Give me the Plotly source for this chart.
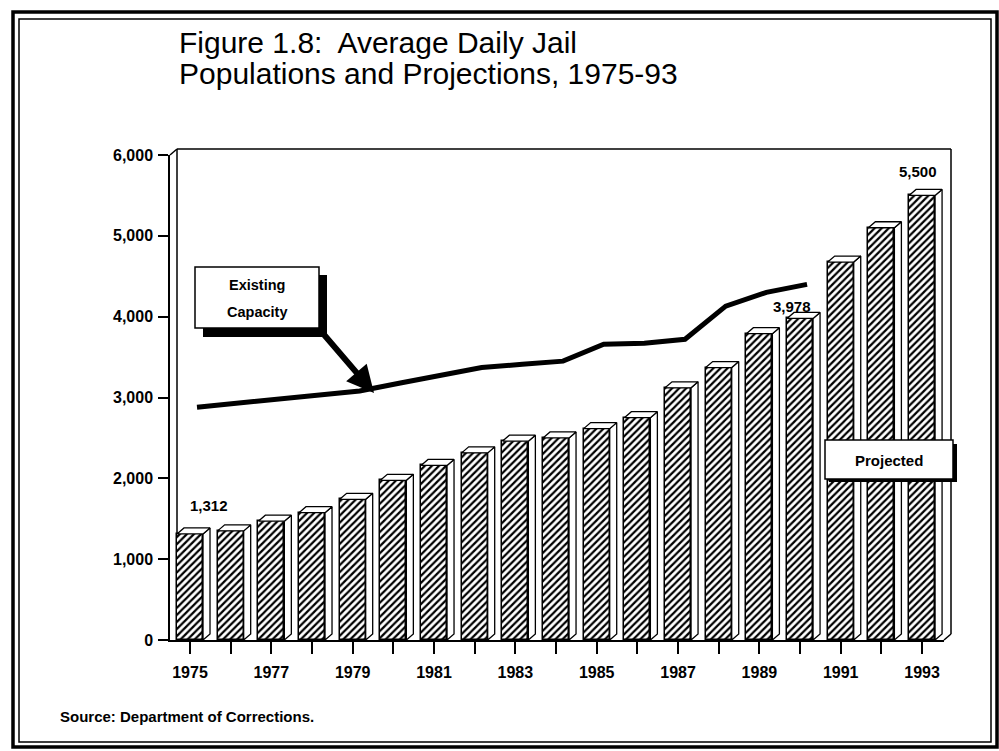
import plotly.graph_objects as go

# ---------------- data ----------------
years = list(range(1975, 1994))
population = [1312, 1350, 1470, 1575, 1740, 1975, 2160, 2315, 2460, 2500,
              2615, 2750, 3120, 3370, 3790, 3978, 4675, 5100, 5500]
cap_years = list(range(1975, 1991))
capacity = [2880, 2930, 2980, 3020, 3080, 3180, 3270, 3370, 3410, 3450,
            3660, 3670, 3720, 4130, 4300, 4400]
ytick_vals = [0, 1000, 2000, 3000, 4000, 5000, 6000]
ytick_text = ["0", "1,000", "2,000", "3,000", "4,000", "5,000", "6,000"]
xtick_text = [str(y) if (y - 1975) % 2 == 0 else "" for y in years]
labelled_years = [1975, 1990, 1993]
title_lines = ["Figure 1.8:  Average Daily Jail", "Populations and Projections, 1975-93"]
source_text = "Source: Department of Corrections."

# ---------------- geometry / style ----------------
W, H = 999, 751
L, R, T, B = 170, 55, 155, 111
PW, PH = W - L - R, H - T - B
PX_PER_YEAR = 40.67
XMIN = 1975 - 20 / PX_PER_YEAR
XMAX = XMIN + PW / PX_PER_YEAR
YMAX = 6000
DX = 7 / PX_PER_YEAR          # 3-D depth (years)
DY = 6 / PH * YMAX            # 3-D depth (value units)
BW = 0.64                     # bar width
FONT = "Liberation Sans, Arial, Helvetica, sans-serif"


def pxx(X):
    return (X - L) / PW


def pxy(Y):
    return (H - B - Y) / PH


def dxp(x):
    return (x - XMIN) / (XMAX - XMIN)


def dyp(y):
    return y / YMAX


fig = go.Figure()

# capacity line (drawn on back plane)
fig.add_trace(go.Scatter(
    x=[y + DX for y in cap_years], y=capacity, mode="lines",
    line=dict(color="black", width=5), hoverinfo="skip", showlegend=False))

# front faces of bars
fig.add_trace(go.Bar(
    x=years, y=population, width=BW,
    marker=dict(color="white", line=dict(color="black", width=1.5),
                pattern=dict(shape="/", fgcolor="black", bgcolor="white",
                             size=5, solidity=0.45, fillmode="replace")),
    showlegend=False, hoverinfo="skip"))

# 3-D top and side faces
tx, ty, sx, sy = [], [], [], []
for yr, v in zip(years, population):
    x0, x1 = yr - BW / 2, yr + BW / 2
    tx += [x0, x1, x1 + DX, x0 + DX, x0, None]
    ty += [v, v, v + DY, v + DY, v, None]
    sx += [x1, x1 + DX, x1 + DX, x1, x1, None]
    sy += [0, DY, v + DY, v, 0, None]
for xs, ys in ((sx, sy), (tx, ty)):
    fig.add_trace(go.Scatter(
        x=xs, y=ys, mode="lines", fill="toself", fillcolor="white",
        line=dict(color="black", width=1.3), hoverinfo="skip",
        showlegend=False, cliponaxis=False))

shapes = []
line_k = dict(color="black", width=1.5)
# back wall / 3-D frame of the plot
shapes += [
    dict(type="line", xref="paper", yref="paper", x0=dxp(XMIN + DX), y0=dyp(DY),
         x1=dxp(XMIN + DX), y1=dyp(YMAX + DY), line=line_k, layer="below"),
    dict(type="line", xref="paper", yref="paper", x0=dxp(XMIN + DX), y0=dyp(YMAX + DY),
         x1=dxp(XMAX + DX), y1=dyp(YMAX + DY), line=line_k),
    dict(type="line", xref="paper", yref="paper", x0=dxp(XMAX + DX), y0=dyp(YMAX + DY),
         x1=dxp(XMAX + DX), y1=dyp(DY), line=line_k),
    dict(type="line", xref="paper", yref="paper", x0=dxp(XMIN), y0=dyp(YMAX),
         x1=dxp(XMIN + DX), y1=dyp(YMAX + DY), line=line_k),
    dict(type="line", xref="paper", yref="paper", x0=dxp(XMAX), y0=dyp(0),
         x1=dxp(XMAX + DX), y1=dyp(DY), line=line_k),
]
# outer page frame
shapes += [
    dict(type="rect", xref="paper", yref="paper", x0=pxx(13), y0=pxy(12),
         x1=pxx(997), y1=pxy(747), line=dict(color="black", width=3.5)),
    dict(type="rect", xref="paper", yref="paper", x0=pxx(19), y0=pxy(19),
         x1=pxx(991), y1=pxy(742), line=dict(color="black", width=1.5)),
]
# "Existing Capacity" call-out box with shadow
shapes += [
    dict(type="rect", xref="paper", yref="paper", x0=pxx(203), y0=pxy(275),
         x1=pxx(327), y1=pxy(337), fillcolor="black", line=dict(width=0)),
    dict(type="rect", xref="paper", yref="paper", x0=pxx(195), y0=pxy(267),
         x1=pxx(319), y1=pxy(328), fillcolor="white", line=line_k),
]
# "Projected" box with shadow
shapes += [
    dict(type="rect", xref="paper", yref="paper", x0=pxx(829), y0=pxy(444),
         x1=pxx(957), y1=pxy(482), fillcolor="black", line=dict(width=0)),
    dict(type="rect", xref="paper", yref="paper", x0=pxx(825), y0=pxy(440),
         x1=pxx(953), y1=pxy(479), fillcolor="white", line=line_k),
]

ann = []
bold15 = dict(family=FONT, size=15, color="black", weight="bold")
bold145 = dict(family=FONT, size=14.5, color="black", weight="bold")
# value labels
label_shift = {1975: (19, 28), 1990: (-8, 12), 1993: (-4, 24)}
for yr in labelled_years:
    v = population[years.index(yr)]
    xs, ys = label_shift[yr]
    ann.append(dict(x=yr, y=v, xref="x", yref="y", text=f"{v:,}", showarrow=False,
                    xshift=xs, yshift=ys, font=bold15, xanchor="center", yanchor="middle"))
# title
for txt, yy in zip(title_lines, (43, 74)):
    ann.append(dict(x=pxx(177), y=pxy(yy), xref="paper", yref="paper", text=txt,
                    showarrow=False, xanchor="left", yanchor="middle",
                    font=dict(family=FONT, size=30, color="black")))
# source
ann.append(dict(x=pxx(58), y=pxy(717), xref="paper", yref="paper", text=source_text,
                showarrow=False, xanchor="left", yanchor="middle", font=bold15))
# box texts
ann.append(dict(x=pxx(257), y=pxy(285), xref="paper", yref="paper", text="Existing",
                showarrow=False, xanchor="center", yanchor="middle", font=bold145))
ann.append(dict(x=pxx(257), y=pxy(312), xref="paper", yref="paper", text="Capacity",
                showarrow=False, xanchor="center", yanchor="middle", font=bold145))
ann.append(dict(x=pxx(889), y=pxy(460), xref="paper", yref="paper", text="Projected",
                showarrow=False, xanchor="center", yanchor="middle", font=bold15))
# arrow from box to line
ann.append(dict(x=pxx(374), y=pxy(393), xref="paper", yref="paper", text="",
                showarrow=True, ax=-54, ay=-63, arrowhead=2, arrowsize=0.9,
                arrowwidth=6, arrowcolor="black"))

fig.update_layout(
    width=W, height=H, margin=dict(l=L, r=R, t=T, b=B),
    paper_bgcolor="white", plot_bgcolor="white",
    shapes=shapes, annotations=ann, showlegend=False, bargap=0,
    xaxis=dict(range=[XMIN, XMAX], tickmode="array", tickvals=years,
               ticktext=xtick_text, ticks="outside", ticklen=12, tickwidth=1.5,
               tickcolor="black", showline=True, linecolor="black", linewidth=1.5,
               showgrid=False, zeroline=False, fixedrange=True, ticklabelstandoff=5,
               tickfont=dict(family=FONT, size=16, color="black", weight="bold")),
    yaxis=dict(range=[0, YMAX], tickmode="array", tickvals=ytick_vals,
               ticktext=ytick_text, ticks="outside", ticklen=10, tickwidth=1.5,
               tickcolor="black", showline=True, linecolor="black", linewidth=1.5,
               showgrid=False, zeroline=False, fixedrange=True, ticklabelstandoff=2,
               tickfont=dict(family=FONT, size=16, color="black", weight="bold")),
)

fig.write_html("out.html")
